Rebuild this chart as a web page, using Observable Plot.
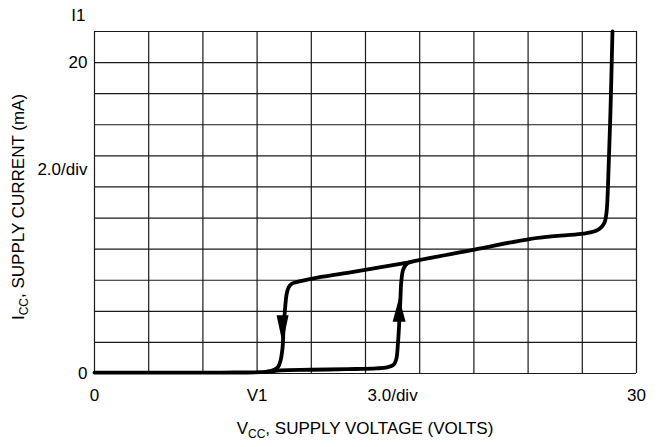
<!DOCTYPE html>
<html>
<head>
<meta charset="utf-8">
<script src="https://cdn.jsdelivr.net/npm/d3@7"></script>
<script src="https://cdn.jsdelivr.net/npm/@observablehq/plot@0.6"></script>
<style>
  html, body { margin: 0; padding: 0; background: #fff; }
  #chart svg { display: block; }
</style>
</head>
<body>
<div id="chart"></div>
<script>
// ---- data ----
const xGrid = [0, 3, 6, 9, 12, 15, 18, 21, 24, 27, 30];
const yGrid = [0, 2, 4, 6, 8, 10, 12, 14, 16, 18, 20, 22];

const xTickValues = [0, 9, 16.5, 30];
const xTickLabels = ["0", "V1", "3.0/div", "30"];
const yTickValues = [0, 13.1, 20];
const yTickLabels = ["0", "2.0/div", "20"];
const yTopLabel = "I1";
const yTopLabelValue = 23;

// forward sweep (increasing Vcc)
const forwardV = [0, 7, 9.5, 10.3, 12, 14, 15.6, 16.2, 16.55, 16.7, 16.8, 16.93, 16.98, 17.09, 17.3, 17.49,
  21.03, 24.08, 25.79, 27.07, 27.73, 28.06, 28.23, 28.34, 28.40, 28.45, 28.56, 28.67];
const forwardI = [0.06, 0.06, 0.1, 0.2, 0.24, 0.28, 0.33, 0.4, 0.55, 0.9, 2.0, 4.7, 5.9, 6.7, 7.08, 7.17,
  7.97, 8.65, 8.87, 9.0, 9.16, 9.42, 9.71, 10.35, 11.45, 13.05, 16.91, 22.0];

// return sweep (decreasing Vcc)
const returnV = [17.49, 14.17, 12.07, 11.18, 10.9, 10.74, 10.63, 10.54, 10.46, 10.41, 10.3, 10.16, 9.91, 9.47];
const returnI = [7.17, 6.51, 6.11, 5.88, 5.76, 5.53, 5.08, 4.05, 2.77, 1.67, 0.84, 0.42, 0.23, 0.1];

// direction arrows
const arrowV = [10.41, 16.86];
const arrowI = [2.85, 4.1];
const arrowDir = ["down", "up"];

// ---- build tables ----
const forward = forwardV.map((v, i) => ({v, i: forwardI[i]}));
const back = returnV.map((v, i) => ({v, i: returnI[i]}));
const arrows = arrowV.map((v, k) => ({v, i: arrowI[k], dir: arrowDir[k]}));

const downArrow = {draw(ctx) { ctx.moveTo(-6, -14); ctx.lineTo(6, -14); ctx.lineTo(0, 14); ctx.closePath(); }};
const upArrow = {draw(ctx) { ctx.moveTo(-6.5, 12); ctx.lineTo(6.5, 12); ctx.lineTo(0, -12); ctx.closePath(); }};

const FONT = "'Liberation Sans', Arial, Helvetica, sans-serif";

const chart = Plot.plot({
  width: 661,
  height: 447,
  marginLeft: 94,
  marginRight: 25,
  marginTop: 31,
  marginBottom: 74,
  style: {fontFamily: FONT, fontSize: "17px", color: "#000", background: "#fff"},
  x: {domain: [0, 30]},
  y: {domain: [0, 22]},
  marks: [
    Plot.ruleX(xGrid, {stroke: "#1a1a1a", strokeWidth: 1.2}),
    Plot.ruleY(yGrid, {stroke: "#1a1a1a", strokeWidth: 1.2}),
    Plot.axisX({ticks: xTickValues, tickFormat: d => xTickLabels[xTickValues.indexOf(d)], tickSize: 0, tickPadding: 15, label: null, fill: "#000"}),
    Plot.axisY({ticks: yTickValues, tickFormat: d => yTickLabels[yTickValues.indexOf(d)], tickSize: 0, tickPadding: 7, label: null, fill: "#000"}),
    Plot.text([yTopLabel], {x: 0, y: yTopLabelValue, text: d => d, textAnchor: "end", dx: -9, fill: "#000"}),
    Plot.line(forward, {x: "v", y: "i", stroke: "#000", strokeWidth: 3.8, curve: "catmull-rom", strokeLinejoin: "round", strokeLinecap: "round"}),
    Plot.line(back, {x: "v", y: "i", stroke: "#000", strokeWidth: 3.8, curve: "catmull-rom", strokeLinejoin: "round", strokeLinecap: "round"}),
    Plot.dot(arrows.filter(d => d.dir === "down"), {x: "v", y: "i", symbol: downArrow, fill: "#000", stroke: "none"}),
    Plot.dot(arrows.filter(d => d.dir === "up"), {x: "v", y: "i", symbol: upArrow, fill: "#000", stroke: "none"})
  ]
});

document.getElementById("chart").appendChild(chart);

// axis titles with subscripts
const svg = d3.select(chart);
const xl = svg.append("text")
  .attr("x", 365).attr("y", 434)
  .attr("text-anchor", "middle")
  .attr("font-family", FONT).attr("font-size", 17).attr("fill", "#000");
xl.append("tspan").text("V");
xl.append("tspan").attr("font-size", 12).attr("dy", 4).text("CC");
xl.append("tspan").attr("dy", -4).text(", SUPPLY VOLTAGE (VOLTS)");

const yl = svg.append("text")
  .attr("transform", "translate(24,207) rotate(-90)")
  .attr("text-anchor", "middle")
  .attr("font-family", FONT).attr("font-size", 17).attr("fill", "#000");
yl.append("tspan").text("I");
yl.append("tspan").attr("font-size", 12).attr("dy", 4).text("CC");
yl.append("tspan").attr("dy", -4).text(", SUPPLY CURRENT (mA)");
</script>
</body>
</html>
